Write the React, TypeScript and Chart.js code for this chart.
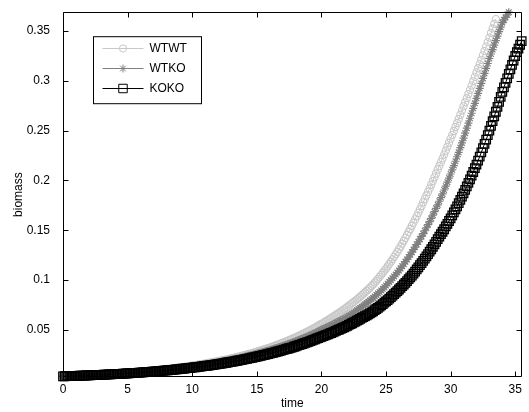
import { useEffect, useRef } from "react";
import { Chart, registerables } from "chart.js";
import { drawPoint } from "chart.js/helpers";

Chart.register(...registerables);

// time samples (shared by all series)
const time = [
  0, 0.125, 0.25, 0.375, 0.5, 0.625, 0.75, 0.875, 1, 1.125, 1.25, 1.375, 1.5, 1.625, 1.75, 1.875,
  2, 2.125, 2.25, 2.375, 2.5, 2.625, 2.75, 2.875, 3, 3.125, 3.25, 3.375, 3.5, 3.625, 3.75, 3.875,
  4, 4.125, 4.25, 4.375, 4.5, 4.625, 4.75, 4.875, 5, 5.125, 5.25, 5.375, 5.5, 5.625, 5.75, 5.875,
  6, 6.125, 6.25, 6.375, 6.5, 6.625, 6.75, 6.875, 7, 7.125, 7.25, 7.375, 7.5, 7.625, 7.75, 7.875,
  8, 8.125, 8.25, 8.375, 8.5, 8.625, 8.75, 8.875, 9, 9.125, 9.25, 9.375, 9.5, 9.625, 9.75, 9.875,
  10, 10.125, 10.25, 10.375, 10.5, 10.625, 10.75, 10.875, 11, 11.125, 11.25, 11.375, 11.5, 11.625, 11.75, 11.875,
  12, 12.125, 12.25, 12.375, 12.5, 12.625, 12.75, 12.875, 13, 13.125, 13.25, 13.375, 13.5, 13.625, 13.75, 13.875,
  14, 14.125, 14.25, 14.375, 14.5, 14.625, 14.75, 14.875, 15, 15.125, 15.25, 15.375, 15.5, 15.625, 15.75, 15.875,
  16, 16.125, 16.25, 16.375, 16.5, 16.625, 16.75, 16.875, 17, 17.125, 17.25, 17.375, 17.5, 17.625, 17.75, 17.875,
  18, 18.125, 18.25, 18.375, 18.5, 18.625, 18.75, 18.875, 19, 19.125, 19.25, 19.375, 19.5, 19.625, 19.75, 19.875,
  20, 20.125, 20.25, 20.375, 20.5, 20.625, 20.75, 20.875, 21, 21.125, 21.25, 21.375, 21.5, 21.625, 21.75, 21.875,
  22, 22.125, 22.25, 22.375, 22.5, 22.625, 22.75, 22.875, 23, 23.125, 23.25, 23.375, 23.5, 23.625, 23.75, 23.875,
  24, 24.125, 24.25, 24.375, 24.5, 24.625, 24.75, 24.875, 25, 25.125, 25.25, 25.375, 25.5, 25.625, 25.75, 25.875,
  26, 26.125, 26.25, 26.375, 26.5, 26.625, 26.75, 26.875, 27, 27.125, 27.25, 27.375, 27.5, 27.625, 27.75, 27.875,
  28, 28.125, 28.25, 28.375, 28.5, 28.625, 28.75, 28.875, 29, 29.125, 29.25, 29.375, 29.5, 29.625, 29.75, 29.875,
  30, 30.125, 30.25, 30.375, 30.5, 30.625, 30.75, 30.875, 31, 31.125, 31.25, 31.375, 31.5, 31.625, 31.75, 31.875,
  32, 32.125, 32.25, 32.375, 32.5, 32.625, 32.75, 32.875, 33, 33.125, 33.25, 33.375, 33.5, 33.625, 33.75, 33.875,
  34, 34.125, 34.25, 34.375, 34.5, 34.625, 34.75, 34.875, 35, 35.125, 35.25, 35.375, 35.5,
];

const wtwt = [
  0.0033, 0.00336, 0.00342, 0.00349, 0.00355, 0.00362, 0.00368, 0.00375, 0.00381, 0.00388, 0.00395, 0.00402, 0.0041, 0.00418, 0.00425, 0.00433, 0.0044, 0.00449, 0.00457, 0.00465,
  0.00473, 0.00482, 0.00491, 0.005, 0.00509, 0.00519, 0.00528, 0.00538, 0.00547, 0.00557, 0.00567, 0.00578, 0.00588, 0.00599, 0.0061, 0.00621, 0.00632, 0.00644, 0.00656, 0.00668,
  0.0068, 0.00693, 0.00705, 0.00718, 0.00731, 0.00745, 0.00758, 0.00772, 0.00786, 0.008, 0.00815, 0.0083, 0.00845, 0.00861, 0.00876, 0.00892, 0.00908, 0.00925, 0.00941, 0.00959,
  0.00976, 0.00994, 0.01012, 0.01031, 0.01049, 0.01069, 0.01088, 0.01108, 0.01128, 0.01149, 0.01169, 0.01191, 0.01212, 0.01235, 0.01257, 0.0128, 0.01303, 0.01327, 0.01351, 0.01376,
  0.014, 0.01424, 0.01449, 0.01475, 0.015, 0.01526, 0.01553, 0.01581, 0.01608, 0.01636, 0.01665, 0.01694, 0.01724, 0.01754, 0.01784, 0.01815, 0.01847, 0.0188, 0.01913, 0.01947,
  0.0198, 0.02015, 0.0205, 0.02086, 0.02122, 0.0216, 0.02197, 0.02236, 0.02275, 0.02315, 0.02355, 0.02396, 0.02438, 0.02481, 0.02524, 0.02568, 0.02613, 0.02659, 0.02705, 0.02752,
  0.028, 0.0285, 0.02899, 0.0295, 0.03001, 0.03054, 0.03107, 0.03162, 0.03217, 0.03274, 0.0333, 0.03389, 0.03448, 0.03509, 0.03569, 0.03632, 0.03695, 0.03761, 0.03826, 0.03894,
  0.03961, 0.04031, 0.041, 0.04173, 0.04245, 0.0432, 0.04395, 0.04473, 0.0455, 0.0463, 0.0471, 0.04794, 0.04877, 0.04963, 0.05049, 0.05138, 0.05227, 0.05319, 0.05411, 0.05506,
  0.056, 0.057, 0.0579, 0.0589, 0.0598, 0.0609, 0.0619, 0.063, 0.064, 0.0651, 0.0661, 0.0672, 0.0683, 0.0695, 0.0706, 0.0718,
  0.073, 0.0743, 0.0755, 0.0768, 0.078, 0.0793, 0.0806, 0.082, 0.0833, 0.0847, 0.0862, 0.0877, 0.0892, 0.0907, 0.0923, 0.0939,
  0.0955, 0.0974, 0.0993, 0.1012, 0.1032, 0.1052, 0.1073, 0.1094, 0.1115, 0.1138, 0.1161, 0.1184, 0.1208, 0.1233, 0.1258, 0.1284,
  0.131, 0.1337, 0.1365, 0.1394, 0.1423, 0.1452, 0.1483, 0.1513, 0.1545, 0.1576, 0.1609, 0.1642, 0.1675, 0.171, 0.1744, 0.178,
  0.1815, 0.1849, 0.1885, 0.192, 0.1957, 0.1994, 0.2032, 0.207, 0.211, 0.2146, 0.2184, 0.2221, 0.226, 0.2299, 0.2339, 0.2379,
  0.242, 0.2458, 0.2497, 0.2537, 0.2577, 0.2618, 0.266, 0.2702, 0.2745, 0.2785, 0.2826, 0.2868, 0.291, 0.2953, 0.2996, 0.304,
  0.3085, 0.3127, 0.3169, 0.3212, 0.3256, 0.33, 0.3344, 0.3389, 0.3435, 0.3481, 0.3527, 0.3573, 0.362,
];

const wtko = [
  0.0033, 0.00336, 0.00342, 0.00348, 0.00354, 0.0036, 0.00366, 0.00372, 0.00379, 0.00386, 0.00392, 0.00399, 0.00406, 0.00413, 0.0042, 0.00428, 0.00435, 0.00443, 0.0045, 0.00458,
  0.00466, 0.00475, 0.00483, 0.00492, 0.005, 0.00509, 0.00517, 0.00527, 0.00536, 0.00545, 0.00554, 0.00564, 0.00574, 0.00584, 0.00594, 0.00605, 0.00615, 0.00626, 0.00637, 0.00649,
  0.0066, 0.00672, 0.00683, 0.00696, 0.00708, 0.0072, 0.00733, 0.00746, 0.00759, 0.00773, 0.00786, 0.008, 0.00814, 0.00829, 0.00843, 0.00858, 0.00873, 0.00889, 0.00904, 0.0092,
  0.00936, 0.00953, 0.00969, 0.00987, 0.01004, 0.01022, 0.0104, 0.01059, 0.01077, 0.01096, 0.01115, 0.01135, 0.01155, 0.01176, 0.01196, 0.01217, 0.01238, 0.0126, 0.01282, 0.01306,
  0.0133, 0.01352, 0.01375, 0.01398, 0.01422, 0.01446, 0.01471, 0.01496, 0.01521, 0.01547, 0.01573, 0.016, 0.01626, 0.01654, 0.01682, 0.01711, 0.01739, 0.01769, 0.01799, 0.0183,
  0.0186, 0.01892, 0.01923, 0.01956, 0.01989, 0.02023, 0.02057, 0.02092, 0.02127, 0.02164, 0.022, 0.02238, 0.02275, 0.02314, 0.02352, 0.02392, 0.02432, 0.02474, 0.02515, 0.02558,
  0.026, 0.02643, 0.02686, 0.02731, 0.02776, 0.02822, 0.02868, 0.02916, 0.02963, 0.03012, 0.03061, 0.03112, 0.03163, 0.03216, 0.03268, 0.03322, 0.03376, 0.03432, 0.03488, 0.03546,
  0.03604, 0.03664, 0.03724, 0.03786, 0.03847, 0.03911, 0.03975, 0.04041, 0.04107, 0.04175, 0.04243, 0.04314, 0.04384, 0.04457, 0.0453, 0.04605, 0.0468, 0.04758, 0.04835, 0.04918,
  0.05, 0.0508, 0.0515, 0.0523, 0.053, 0.0538, 0.0545, 0.0553, 0.0561, 0.057, 0.0578, 0.0587, 0.0595, 0.0604, 0.0612, 0.0621,
  0.063, 0.064, 0.0651, 0.0662, 0.0673, 0.0685, 0.0696, 0.0708, 0.0719, 0.0731, 0.0743, 0.0756, 0.0768, 0.0781, 0.0794, 0.0807,
  0.082, 0.0835, 0.085, 0.0865, 0.088, 0.0896, 0.0912, 0.0928, 0.0945, 0.0963, 0.098, 0.0999, 0.1017, 0.1036, 0.1055, 0.1075,
  0.1095, 0.1117, 0.1139, 0.1161, 0.1184, 0.1207, 0.1231, 0.1255, 0.128, 0.1305, 0.1331, 0.1357, 0.1383, 0.1411, 0.1438, 0.1466,
  0.1495, 0.1525, 0.1556, 0.1587, 0.1619, 0.1652, 0.1686, 0.172, 0.1755, 0.1791, 0.1828, 0.1865, 0.1904, 0.1943, 0.1983, 0.2024,
  0.2065, 0.2107, 0.215, 0.2193, 0.2238, 0.2283, 0.233, 0.2377, 0.2425, 0.2475, 0.2525, 0.2575, 0.2625, 0.2675, 0.2725, 0.2775,
  0.2825, 0.2875, 0.2925, 0.2975, 0.3025, 0.3075, 0.3125, 0.3175, 0.3225, 0.327, 0.3315, 0.336, 0.3405, 0.345, 0.3495, 0.354,
  0.3585, 0.3612, 0.3638, 0.3664, 0.369,
];

const koko = [
  0.0033, 0.00336, 0.00341, 0.00346, 0.00351, 0.00357, 0.00362, 0.00368, 0.00374, 0.0038, 0.00386, 0.00392, 0.00398, 0.00405, 0.00411, 0.00418, 0.00424, 0.00431, 0.00438, 0.00445,
  0.00452, 0.00459, 0.00466, 0.00474, 0.00481, 0.00489, 0.00497, 0.00505, 0.00513, 0.00521, 0.00529, 0.00538, 0.00546, 0.00555, 0.00564, 0.00573, 0.00582, 0.00591, 0.006, 0.0061,
  0.0062, 0.00631, 0.00641, 0.00652, 0.00662, 0.00673, 0.00684, 0.00696, 0.00707, 0.00719, 0.00731, 0.00744, 0.00756, 0.00769, 0.00781, 0.00794, 0.00807, 0.00821, 0.00834, 0.00848,
  0.00862, 0.00877, 0.00891, 0.00906, 0.00921, 0.00937, 0.00952, 0.00968, 0.00984, 0.01, 0.01017, 0.01034, 0.01051, 0.01069, 0.01087, 0.01105, 0.01123, 0.01142, 0.01161, 0.01181,
  0.012, 0.0122, 0.0124, 0.0126, 0.01281, 0.01302, 0.01323, 0.01345, 0.01367, 0.0139, 0.01412, 0.01436, 0.01459, 0.01483, 0.01507, 0.01532, 0.01557, 0.01583, 0.01609, 0.01636,
  0.01662, 0.0169, 0.01717, 0.01746, 0.01774, 0.01804, 0.01833, 0.01863, 0.01893, 0.01925, 0.01956, 0.01989, 0.02021, 0.02055, 0.02088, 0.02123, 0.02157, 0.02193, 0.02228, 0.02264,
  0.023, 0.02337, 0.02373, 0.02411, 0.02449, 0.02488, 0.02527, 0.02567, 0.02607, 0.02649, 0.0269, 0.02733, 0.02776, 0.0282, 0.02864, 0.0291, 0.02955, 0.03002, 0.03049, 0.03098,
  0.03146, 0.03196, 0.03246, 0.03298, 0.03349, 0.03403, 0.03456, 0.03511, 0.03566, 0.03623, 0.03679, 0.03738, 0.03796, 0.03857, 0.03917, 0.03979, 0.04041, 0.04106, 0.0417, 0.04235,
  0.043, 0.0436, 0.0442, 0.0449, 0.0455, 0.0462, 0.0468, 0.0475, 0.0482, 0.0489, 0.0496, 0.0503, 0.051, 0.0518, 0.0525, 0.0533,
  0.054, 0.0549, 0.0557, 0.0566, 0.0574, 0.0583, 0.0592, 0.0601, 0.061, 0.0619, 0.0628, 0.0637, 0.0646, 0.0656, 0.0665, 0.0675,
  0.0685, 0.0697, 0.0709, 0.0721, 0.0733, 0.0746, 0.0759, 0.0772, 0.0785, 0.0799, 0.0813, 0.0828, 0.0843, 0.0858, 0.0873, 0.0889,
  0.0905, 0.0921, 0.0938, 0.0955, 0.0972, 0.099, 0.1008, 0.1026, 0.1045, 0.1065, 0.1085, 0.1106, 0.1127, 0.1149, 0.117, 0.1193,
  0.1215, 0.1238, 0.1261, 0.1285, 0.1309, 0.1334, 0.1359, 0.1384, 0.141, 0.1435, 0.146, 0.1485, 0.151, 0.1538, 0.1565, 0.1593,
  0.162, 0.165, 0.168, 0.171, 0.174, 0.1773, 0.1805, 0.1838, 0.187, 0.1905, 0.194, 0.1975, 0.201, 0.2048, 0.2085, 0.2123,
  0.216, 0.22, 0.224, 0.2283, 0.2325, 0.2368, 0.241, 0.2455, 0.25, 0.2548, 0.2595, 0.2643, 0.269, 0.274, 0.279, 0.284,
  0.289, 0.2935, 0.298, 0.3025, 0.307, 0.3115, 0.316, 0.3205, 0.325, 0.3288, 0.3325, 0.3363, 0.34,
];

const seriesLabels = ["WTWT", "WTKO", "KOKO"];
const xTicks = [0, 5, 10, 15, 20, 25, 30, 35];
const yTicks = [0.05, 0.1, 0.15, 0.2, 0.25, 0.3, 0.35];
const xRange = [0, 35.5];
const yRange = [0.0026, 0.369];
const xTitle = "time";
const yTitle = "biomass";

const FONT = "'Liberation Sans', Arial, sans-serif";

function toPoints(vals: number[]) {
  return vals.map((v, i) => ({ x: time[i], y: v }));
}

const framePlugin = {
  id: "matlabFrame",
  afterDraw(chart: any) {
    const { ctx, chartArea: a, scales } = chart;
    const L = Math.round(a.left) + 0.5;
    const R = Math.round(a.right) - 0.5;
    const T = Math.round(a.top) + 0.5;
    const B = Math.round(a.bottom) - 0.5;
    ctx.save();
    ctx.strokeStyle = "#000";
    ctx.lineWidth = 1;
    ctx.beginPath();
    ctx.rect(L, T, R - L, B - T);
    ctx.stroke();
    const tl = 5;
    ctx.beginPath();
    for (const v of xTicks) {
      const px = Math.round(scales.x.getPixelForValue(v)) + 0.5;
      ctx.moveTo(px, B);
      ctx.lineTo(px, B - tl);
      ctx.moveTo(px, T);
      ctx.lineTo(px, T + tl);
    }
    for (const v of yTicks) {
      const py = Math.round(scales.y.getPixelForValue(v)) + 0.5;
      ctx.moveTo(L, py);
      ctx.lineTo(L + tl, py);
      ctx.moveTo(R, py);
      ctx.lineTo(R - tl, py);
    }
    ctx.stroke();

    // axis titles
    ctx.fillStyle = "#000";
    ctx.font = `12px ${FONT}`;
    ctx.textAlign = "center";
    ctx.textBaseline = "middle";
    ctx.fillText(xTitle, (a.left + a.right) / 2, 404);
    ctx.save();
    ctx.translate(19, (a.top + a.bottom) / 2);
    ctx.rotate(-Math.PI / 2);
    ctx.fillText(yTitle, 0, 0);
    ctx.restore();

    // legend
    const bx = a.left + 30.5;
    const by = a.top + 24.5;
    const bw = 108;
    const bh = 67;
    ctx.fillStyle = "#fff";
    ctx.fillRect(bx, by, bw, bh);
    ctx.strokeStyle = "#000";
    ctx.strokeRect(bx, by, bw, bh);
    const metas = chart.data.datasets;
    seriesLabels.forEach((lab, i) => {
      const ds = metas.find((d: any) => d.label === lab);
      const y = Math.round(by + 11 + 20 * i) + 0.5;
      const x0 = bx + 9;
      const x1 = bx + 50;
      ctx.strokeStyle = ds.borderColor;
      ctx.lineWidth = 1;
      ctx.beginPath();
      ctx.moveTo(x0, y);
      ctx.lineTo(x1, y);
      ctx.stroke();
      ctx.fillStyle = "rgba(0,0,0,0)";
      ctx.lineWidth = 1;
      drawPoint(ctx, { pointStyle: ds.pointStyle, radius: ds.pointRadius, borderWidth: 1, rotation: 0 } as any, (x0 + x1) / 2, y);
      ctx.fillStyle = "#000";
      ctx.font = `12px ${FONT}`;
      ctx.textAlign = "left";
      ctx.textBaseline = "middle";
      ctx.fillText(lab, bx + 56, y + 0.5);
    });
    ctx.restore();
  },
};

export default function App() {
  const ref = useRef<HTMLCanvasElement | null>(null);
  useEffect(() => {
    document.body.style.margin = "0";
    const canvas = ref.current;
    if (!canvas) return;
    const mk = (label: string, vals: number[], color: string, style: string, r: number, bw: number, order: number) => ({
      label,
      data: toPoints(vals),
      borderColor: color,
      borderWidth: 1,
      pointStyle: style,
      pointRadius: r,
      pointBorderColor: color,
      pointBackgroundColor: "rgba(0,0,0,0)",
      pointBorderWidth: bw,
      tension: 0,
      fill: false,
      clip: false as any,
      order,
    });
    const chart = new Chart(canvas, {
      type: "line",
      data: {
        datasets: [
          mk(seriesLabels[0], wtwt, "#c8c8c8", "circle", 3.6, 1.1, 3),
          mk(seriesLabels[1], wtko, "#808080", "star", 4, 1.2, 2),
          mk(seriesLabels[2], koko, "#000000", "rect", 6, 1.3, 1),
        ] as any,
      },
      options: {
        animation: false,
        responsive: false,
        devicePixelRatio: 1,
        events: [],
        layout: { padding: { top: 10, right: 1, left: 0, bottom: 0 } },
        plugins: { legend: { display: false }, tooltip: { enabled: false } },
        scales: {
          x: {
            type: "linear",
            min: xRange[0],
            max: xRange[1],
            grid: { display: false },
            border: { display: false },
            afterBuildTicks: (s: any) => {
              s.ticks = xTicks.map((v) => ({ value: v }));
            },
            afterFit: (s: any) => {
              s.height = 35;
            },
            ticks: {
              autoSkip: false,
              maxRotation: 0,
              padding: -3,
              color: "#000",
              font: { family: FONT, size: 12 },
              callback: (v: any) => String(v),
            },
          },
          y: {
            type: "linear",
            min: yRange[0],
            max: yRange[1],
            grid: { display: false },
            border: { display: false },
            afterBuildTicks: (s: any) => {
              s.ticks = yTicks.map((v) => ({ value: v }));
            },
            afterFit: (s: any) => {
              s.width = 63;
            },
            ticks: {
              autoSkip: false,
              padding: 5,
              color: "#000",
              font: { family: FONT, size: 12 },
              callback: (v: any) => String(v),
            },
          },
        },
      },
      plugins: [framePlugin],
    });
    return () => chart.destroy();
  }, []);
  return (
    <div style={{ width: 529, height: 412 }}>
      <canvas ref={ref} width={529} height={412} style={{ display: "block" }} />
    </div>
  );
}
